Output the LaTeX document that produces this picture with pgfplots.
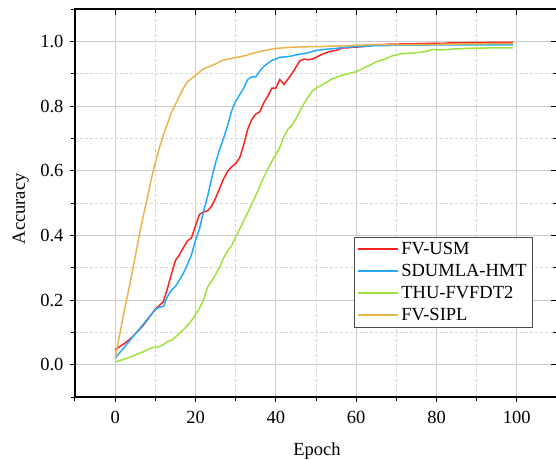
\documentclass[border=0pt]{standalone}
\usepackage{fontspec}
\setmainfont{Liberation Serif}
\usepackage{pgfplots}
\pgfplotsset{compat=1.18}
\definecolor{cred}{RGB}{250,35,35}
\definecolor{cblue}{RGB}{35,170,255}
\definecolor{cgreen}{RGB}{160,225,60}
\definecolor{corange}{RGB}{235,180,75}
\newcommand{\fs}{\fontsize{18.5}{21}\selectfont}
\pgfplotsset{
  common/.style={
    scale only axis, width=482pt, height=388pt,
    xmin=-10, xmax=110, ymin=-0.1, ymax=1.1,
    xtick={0,20,40,60,80,100},
    ytick={0,0.2,0.4,0.6,0.8,1.0},
    minor xtick={-10,10,30,50,70,90,110},
    minor ytick={-0.1,0.1,0.3,0.5,0.7,0.9,1.1},
    axis line style={line width=1.3pt, black},
    tick style={line width=1pt, black},
  }
}
\begin{document}
\begin{tikzpicture}
\useasboundingbox (-75pt,-62pt) rectangle (481pt,397pt);
\begin{axis}[common,
  tick align=outside,
  xtick pos=bottom, ytick pos=left,
  major tick length=5pt, minor tick length=3.5pt,
  grid=both,
  major grid style={line width=0.9pt, black!20},
  minor grid style={line width=0.6pt, black!16, densely dashed},
  /pgf/number format/assume math mode=true,
  ticklabel style={font=\fs},
  yticklabel style={/pgf/number format/.cd, fixed, fixed zerofill, precision=1, /tikz/.cd, xshift=-3pt},
  xticklabel style={yshift=-6pt},
  xlabel={Epoch}, ylabel={Accuracy},
  label style={font=\fs},
  xlabel style={at={(axis description cs:0.502,-0.1495)}, anchor=base},
  ylabel style={at={(axis description cs:-0.104,0.485)}, anchor=base},
  legend cell align=left,
  legend style={at={(rel axis cs:0.948,0.412)}, anchor=north east, font=\fs,
    draw=black!70, inner sep=2.5pt, row sep=3.3pt,
    nodes={inner sep=2.5pt}},
  legend image code/.code={\draw[mark repeat=2,mark phase=2,#1] plot coordinates {(0pt,0pt)(20pt,0pt)(40pt,0pt)};},
  legend image post style={line width=2pt},
  every axis plot/.append style={line width=1.5pt},
]
\addplot[color=cred, draw=cred] coordinates {
(0,0.046)(1,0.055)(2,0.063)(3,0.072)(4,0.083)(5,0.095)(6,0.108)(7,0.122)(8,0.138)(9,0.155)
(10,0.172)(11,0.183)(12,0.195)(13,0.235)(14,0.28)(15,0.322)(16,0.34)(17,0.362)(18,0.383)(19,0.392)
(20,0.43)(21,0.465)(22,0.472)(23,0.476)(24,0.49)(25,0.515)(26,0.545)(27,0.575)(28,0.598)(29,0.612)
(30,0.622)(31,0.64)(32,0.68)(33,0.728)(34,0.758)(35,0.775)(36,0.782)(37,0.81)(38,0.83)(39,0.855)
(40,0.855)(41,0.882)(42,0.867)(43,0.883)(44,0.9)(45,0.92)(46,0.94)(47,0.945)(48,0.943)(49,0.945)
(50,0.95)(51,0.957)(52,0.962)(53,0.967)(54,0.97)(55,0.972)(56,0.977)(57,0.98)(58,0.98)(59,0.982)
(60,0.982)(61,0.983)(62,0.984)(63,0.986)(64,0.988)(65,0.99)(66,0.99)(67,0.99)(68,0.991)(69,0.991)
(70,0.991)(71,0.992)(72,0.992)(73,0.992)(74,0.992)(75,0.993)(76,0.993)(77,0.993)(78,0.994)(79,0.994)
(80,0.994)(81,0.994)(82,0.994)(83,0.995)(84,0.995)(85,0.995)(86,0.995)(87,0.995)(88,0.996)(89,0.996)
(90,0.996)(91,0.996)(92,0.996)(93,0.997)(94,0.997)(95,0.997)(96,0.997)(97,0.997)(98,0.997)(99,0.997)
};
\addlegendentry{FV-USM}
\addplot[color=cblue, draw=cblue] coordinates {
(0,0.02)(1,0.035)(2,0.05)(3,0.065)(4,0.08)(5,0.095)(6,0.11)(7,0.125)(8,0.14)(9,0.155)
(10,0.17)(11,0.178)(12,0.18)(13,0.21)(14,0.23)(15,0.242)(16,0.262)(17,0.283)(18,0.31)(19,0.34)
(20,0.385)(21,0.42)(22,0.475)(23,0.52)(24,0.575)(25,0.625)(26,0.665)(27,0.70)(28,0.74)(29,0.785)
(30,0.815)(31,0.835)(32,0.855)(33,0.882)(34,0.89)(35,0.89)(36,0.908)(37,0.922)(38,0.932)(39,0.941)
(40,0.945)(41,0.951)(42,0.951)(43,0.953)(44,0.955)(45,0.958)(46,0.96)(47,0.962)(48,0.965)(49,0.968)
(50,0.972)(51,0.973)(52,0.975)(53,0.976)(54,0.977)(55,0.978)(56,0.98)(57,0.981)(58,0.982)(59,0.983)
(60,0.984)(61,0.984)(62,0.985)(63,0.985)(64,0.986)(65,0.987)(66,0.987)(67,0.987)(68,0.987)(69,0.988)
(70,0.988)(71,0.988)(72,0.988)(73,0.988)(74,0.988)(75,0.988)(76,0.988)(77,0.988)(78,0.988)(79,0.989)
(80,0.989)(81,0.989)(82,0.989)(83,0.989)(84,0.989)(85,0.989)(86,0.989)(87,0.989)(88,0.989)(89,0.989)
(90,0.989)(91,0.989)(92,0.989)(93,0.989)(94,0.989)(95,0.989)(96,0.989)(97,0.989)(98,0.989)(99,0.989)
};
\addlegendentry{SDUMLA-HMT}
\addplot[color=cgreen, draw=cgreen] coordinates {
(0,0.008)(1,0.012)(2,0.016)(3,0.02)(4,0.025)(5,0.03)(6,0.035)(7,0.04)(8,0.046)(9,0.052)
(10,0.054)(11,0.056)(12,0.062)(13,0.071)(14,0.075)(15,0.085)(16,0.097)(17,0.108)(18,0.122)(19,0.136)
(20,0.155)(21,0.175)(22,0.2)(23,0.24)(24,0.258)(25,0.278)(26,0.302)(27,0.33)(28,0.352)(29,0.368)
(30,0.395)(31,0.42)(32,0.445)(33,0.47)(34,0.497)(35,0.523)(36,0.552)(37,0.58)(38,0.605)(39,0.628)
(40,0.65)(41,0.672)(42,0.705)(43,0.728)(44,0.74)(45,0.76)(46,0.785)(47,0.807)(48,0.827)(49,0.845)
(50,0.855)(51,0.862)(52,0.869)(53,0.876)(54,0.884)(55,0.888)(56,0.893)(57,0.897)(58,0.9)(59,0.903)
(60,0.906)(61,0.912)(62,0.919)(63,0.924)(64,0.93)(65,0.937)(66,0.941)(67,0.944)(68,0.95)(69,0.955)
(70,0.958)(71,0.961)(72,0.962)(73,0.963)(74,0.964)(75,0.965)(76,0.966)(77,0.968)(78,0.971)(79,0.975)
(80,0.974)(81,0.973)(82,0.974)(83,0.975)(84,0.976)(85,0.977)(86,0.977)(87,0.978)(88,0.978)(89,0.979)
(90,0.979)(91,0.979)(92,0.979)(93,0.98)(94,0.98)(95,0.98)(96,0.98)(97,0.98)(98,0.98)(99,0.98)
};
\addlegendentry{THU-FVFDT2}
\addplot[color=corange, draw=corange] coordinates {
(0,0.02)(1,0.085)(2,0.15)(3,0.21)(4,0.27)(5,0.335)(6,0.40)(7,0.46)(8,0.515)(9,0.575)
(10,0.625)(11,0.67)(12,0.71)(13,0.745)(14,0.78)(15,0.805)(16,0.83)(17,0.855)(18,0.875)(19,0.885)
(20,0.895)(21,0.905)(22,0.915)(23,0.92)(24,0.925)(25,0.93)(26,0.937)(27,0.942)(28,0.945)(29,0.947)
(30,0.95)(31,0.952)(32,0.955)(33,0.958)(34,0.962)(35,0.965)(36,0.968)(37,0.971)(38,0.974)(39,0.976)
(40,0.978)(41,0.979)(42,0.98)(43,0.981)(44,0.982)(45,0.982)(46,0.983)(47,0.983)(48,0.983)(49,0.984)
(50,0.984)(51,0.984)(52,0.984)(53,0.985)(54,0.985)(55,0.985)(56,0.986)(57,0.986)(58,0.987)(59,0.987)
(60,0.988)(61,0.988)(62,0.989)(63,0.989)(64,0.99)(65,0.99)(66,0.99)(67,0.99)(68,0.99)(69,0.99)
(70,0.99)(71,0.99)(72,0.99)(73,0.99)(74,0.99)(75,0.99)(76,0.99)(77,0.99)(78,0.99)(79,0.99)
(80,0.99)(81,0.991)(82,0.991)(83,0.991)(84,0.991)(85,0.991)(86,0.992)(87,0.992)(88,0.992)(89,0.992)
(90,0.992)(91,0.992)(92,0.992)(93,0.993)(94,0.993)(95,0.993)(96,0.993)(97,0.993)(98,0.993)(99,0.993)
};
\addlegendentry{FV-SIPL}
\end{axis}
\begin{axis}[common,
  tick align=inside,
  xtick pos=top, ytick pos=right,
  major tick length=6pt, minor tick length=4pt,
  xticklabels={}, yticklabels={},
]
\end{axis}
\end{tikzpicture}
\end{document}
